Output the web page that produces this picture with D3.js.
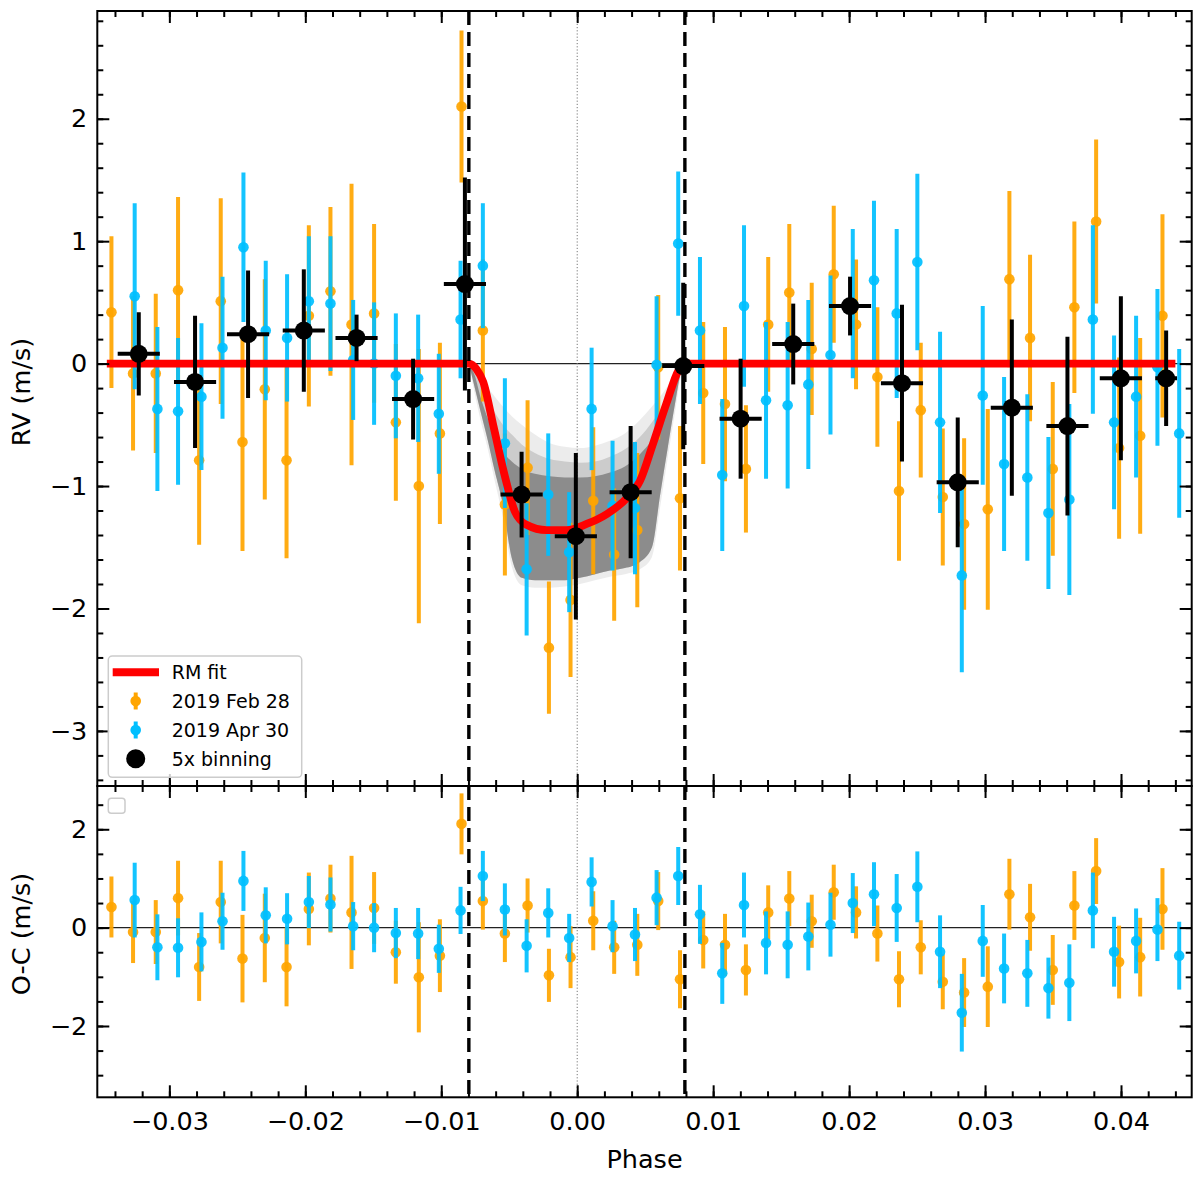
<!DOCTYPE html>
<html>
<head>
<meta charset="utf-8">
<script src="https://cdn.jsdelivr.net/npm/d3@7"></script>
<style>
  html, body { margin: 0; padding: 0; background: #fff; }
  svg { display: block; font-family: "DejaVu Sans", sans-serif; }
</style>
</head>
<body>
<div id="container"></div>
<script>
const width = 1200, height = 1178;

// 2019 Feb 28 (orange): phase, RV, RV error, O-C
const febPhase = [-0.03426, -0.03267, -0.03100, -0.02936, -0.02781, -0.02622, -0.02462, -0.02298, -0.02138, -0.01974,
  -0.01815, -0.01660, -0.01494, -0.01334, -0.01165, -0.01010, -0.00851, -0.00694, -0.00532, -0.00365,
  -0.00208, -0.00049, 0.00118, 0.00272, 0.00442, 0.00596, 0.00756, 0.00927, 0.01087, 0.01241,
  0.01405, 0.01560, 0.01725, 0.01887, 0.02051, 0.02208, 0.02367, 0.02527, 0.02689, 0.02846,
  0.03020, 0.03179, 0.03331, 0.03498, 0.03657, 0.03817, 0.03986, 0.04141, 0.04305];
const febRV = [0.42, -0.08, -0.08, 0.60, -0.79, 0.51, -0.64, -0.21, -0.79, 0.39,
  0.59, 0.32, 0.41, -0.48, -1.00, -0.57, 2.10, 0.27, -1.15, -0.85,
  -2.32, -1.93, -1.12, -1.56, -1.36, -0.03, -1.10, -0.24, -0.33, -0.86,
  0.32, 0.58, 0.12, 0.73, 0.32, -0.11, -1.04, -0.38, -1.09, -1.31,
  -1.19, 0.69, 0.21, -0.86, 0.46, 1.16, -0.69, -0.59, 0.39];
const febErr = [0.62, 0.63, 0.65, 0.76, 0.69, 0.84, 0.89, 0.90, 0.80, 0.74,
  0.69, 1.15, 0.73, 0.64, 1.12, 0.74, 0.62, 0.58, 0.58, 0.55,
  0.54, 0.63, 0.60, 0.54, 0.63, 0.59, 0.59, 0.58, 0.63, 0.52,
  0.55, 0.56, 0.54, 0.56, 0.53, 0.57, 0.57, 0.55, 0.56, 0.70,
  0.82, 0.72, 0.68, 0.71, 0.70, 0.67, 0.74, 0.80, 0.83];
const febOC = [0.42, -0.09, -0.09, 0.60, -0.80, 0.52, -0.63, -0.21, -0.80, 0.38,
  0.59, 0.31, 0.40, -0.50, -1.01, -0.57, 2.11, 0.54, -0.12, 0.45,
  -0.97, -0.60, 0.14, -0.40, -0.35, 0.54, -1.05, -0.25, -0.35, -0.86,
  0.31, 0.59, 0.13, 0.72, 0.31, -0.12, -1.05, -0.40, -1.10, -1.32,
  -1.20, 0.68, 0.21, -0.86, 0.45, 1.15, -0.70, -0.60, 0.38];

// 2019 Apr 30 (cyan)
const aprPhase = [-0.03255, -0.03088, -0.02936, -0.02764, -0.02609, -0.02455, -0.02291, -0.02134, -0.01974, -0.01815,
  -0.01648, -0.01494, -0.01334, -0.01170, -0.01018, -0.00858, -0.00694, -0.00532, -0.00372, -0.00213,
  -0.00059, 0.00106, 0.00260, 0.00425, 0.00584, 0.00743, 0.00903, 0.01067, 0.01227, 0.01389,
  0.01548, 0.01700, 0.01863, 0.02027, 0.02183, 0.02350, 0.02502, 0.02669, 0.02829, 0.02983,
  0.03140, 0.03311, 0.03466, 0.03620, 0.03793, 0.03949, 0.04111, 0.04268, 0.04428];
const aprRV = [0.55, -0.37, -0.39, -0.27, 0.13, 0.95, 0.27, 0.21, 0.51, 0.49,
  0.03, 0.00, -0.10, -0.12, -0.41, 0.36, 0.80, -0.65, -1.68, -1.07,
  -1.54, -0.37, -1.16, -1.18, -0.01, 0.98, 0.27, -0.91, 0.47, -0.30,
  -0.34, -0.17, 0.07, 0.49, 0.68, 0.41, 0.83, -0.48, -1.73, -0.26,
  -0.82, -0.93, -1.22, -1.11, 0.36, -0.48, -0.27, -0.03, -0.57];
const aprErr = [0.76, 0.67, 0.60, 0.60, 0.58, 0.61, 0.57, 0.52, 0.53, 0.55,
  0.49, 0.50, 0.51, 0.52, 0.49, 0.48, 0.51, 0.53, 0.54, 0.50,
  0.49, 0.50, 0.53, 0.54, 0.56, 0.59, 0.60, 0.62, 0.66, 0.64,
  0.68, 0.69, 0.65, 0.61, 0.65, 0.69, 0.72, 0.74, 0.79, 0.73,
  0.71, 0.68, 0.62, 0.78, 0.77, 0.71, 0.66, 0.64, 0.69];
const aprOC = [0.56, -0.40, -0.41, -0.29, 0.13, 0.95, 0.25, 0.18, 0.52, 0.47,
  0.03, 0.00, -0.11, -0.12, -0.43, 0.35, 1.05, 0.37, -0.37, 0.30,
  -0.21, 0.93, 0.03, -0.14, 0.61, 1.05, 0.27, -0.93, 0.46, -0.31,
  -0.35, -0.18, 0.06, 0.50, 0.68, 0.40, 0.83, -0.49, -1.73, -0.27,
  -0.83, -0.93, -1.23, -1.12, 0.35, -0.49, -0.27, -0.04, -0.57];

// 5x binning (black)
const binPhase = [-0.03225, -0.02811, -0.02421, -0.02011, -0.01623, -0.01207, -0.00826, -0.00409, -0.00010, 0.00393,
  0.00780, 0.01202, 0.01589, 0.02007, 0.02389, 0.02799, 0.03197, 0.03606, 0.03999, 0.04332];
const binRV = [0.08, -0.15, 0.24, 0.27, 0.21, -0.29, 0.65, -1.07, -1.41, -1.05,
  -0.02, -0.45, 0.16, 0.47, -0.16, -0.97, -0.36, -0.51, -0.12, -0.12];
const binErr = [0.34, 0.54, 0.52, 0.50, 0.19, 0.33, 0.87, 0.35, 0.68, 0.54,
  0.68, 0.49, 0.33, 0.24, 0.64, 0.53, 0.72, 0.73, 0.67, 0.39];
const binPhaseErr = [0.00155, 0.00155, 0.00155, 0.00155, 0.00155, 0.00155, 0.00155, 0.00155, 0.00155, 0.00155,
  0.00155, 0.00155, 0.00155, 0.00155, 0.00155, 0.00155, 0.00155, 0.00155, 0.00155, 0.0008];

// RM fit (red)
const modelPhase = [-0.0346, -0.00797, -0.00741, -0.00691, -0.00618, -0.00532, -0.00458, -0.00373, -0.00225, -0.00078,
  0.00069, 0.00216, 0.00363, 0.00461, 0.00559, 0.00658, 0.00743, 0.00792, 0.0440];
const modelRV = [0, 0, -0.045, -0.15, -0.50, -0.92, -1.21, -1.316, -1.36, -1.36,
  -1.31, -1.23, -1.10, -0.96, -0.65, -0.32, -0.06, 0, 0];

// posterior model spread (grey): faint top feather, mid feather, dense core
const bandPhase = [-0.00797, -0.00753, -0.00709, -0.00657, -0.00606, -0.00547, -0.00481, -0.00408, -0.00311, -0.00201, -0.00091,
  0.00020, 0.00130, 0.00241, 0.00351, 0.00461, 0.00550, 0.00609, 0.00667, 0.00719, 0.00763, 0.00792];
const outerHi = [0, -0.04, -0.12, -0.20, -0.27, -0.35, -0.43, -0.50, -0.58, -0.65, -0.68,
  -0.69, -0.67, -0.63, -0.57, -0.46, -0.35, -0.27, -0.18, -0.09, -0.03, 0];
const outerLo = [0, -0.25, -0.47, -0.70, -0.96, -1.25, -1.66, -1.81, -1.83, -1.83, -1.82,
  -1.80, -1.77, -1.74, -1.72, -1.68, -1.58, -1.18, -0.76, -0.40, -0.10, 0];
const midHi = [0, -0.06, -0.18, -0.30, -0.40, -0.50, -0.58, -0.66, -0.73, -0.78, -0.80,
  -0.81, -0.80, -0.76, -0.70, -0.60, -0.48, -0.38, -0.26, -0.14, -0.05, 0];
const coreHi = [0, -0.10, -0.28, -0.45, -0.60, -0.72, -0.80, -0.86, -0.90, -0.92, -0.93,
  -0.93, -0.92, -0.89, -0.84, -0.74, -0.62, -0.50, -0.36, -0.20, -0.07, 0];
const coreLo = [0, -0.20, -0.40, -0.63, -0.88, -1.15, -1.59, -1.75, -1.77, -1.77, -1.77,
  -1.75, -1.72, -1.69, -1.67, -1.62, -1.50, -1.08, -0.68, -0.33, -0.07, 0];

const transitEdges = [-0.00797, 0.00792];
const xTicks = [-0.03, -0.02, -0.01, 0, 0.01, 0.02, 0.03, 0.04];
const rvTicks = [-3, -2, -1, 0, 1, 2];
const ocTicks = [-2, 0, 2];
const legendLabels = ["RM fit", "2019 Feb 28", "2019 Apr 30", "5x binning"];

const ORANGE = "#ffa500", CYAN = "#00bfff";

// Layout
const L = 97.3, R = 1191.7;
const T1 = 11, B1 = 786, T2 = 786, B2 = 1097.3;

const x = d3.scaleLinear().domain([-0.0353, 0.0452]).range([L, R]);
const yTop = d3.scaleLinear().domain([-3.45, 2.88]).range([B1, T1]);
const yBot = d3.scaleLinear().domain([-3.45, 2.88]).range([B2, T2]);

const svg = d3.select("#container").append("svg")
  .attr("width", width).attr("height", height);

const defs = svg.append("defs");
defs.append("clipPath").attr("id", "clipTop").append("rect")
  .attr("x", L).attr("y", T1).attr("width", R - L).attr("height", B1 - T1);
defs.append("clipPath").attr("id", "clipBot").append("rect")
  .attr("x", L).attr("y", T2).attr("width", R - L).attr("height", B2 - T2);

const gTop = svg.append("g").attr("clip-path", "url(#clipTop)");
const gBot = svg.append("g").attr("clip-path", "url(#clipBot)");

// grey spread of posterior models
const band = (hi, lo) => d3.area()
  .x((d, i) => x(bandPhase[i]))
  .y0((d, i) => yTop(lo[i]))
  .y1((d, i) => yTop(hi[i]))
  .curve(d3.curveMonotoneX)(bandPhase);
gTop.append("path").attr("d", band(outerHi, outerLo)).attr("fill", "#808080").attr("opacity", 0.15);
gTop.append("path").attr("d", band(midHi, coreLo)).attr("fill", "#808080").attr("opacity", 0.3);
gTop.append("path").attr("d", band(coreHi, coreLo)).attr("fill", "#808080").attr("opacity", 0.85);

// reference lines
for (const [g, y, t, b] of [[gTop, yTop, T1, B1], [gBot, yBot, T2, B2]]) {
  g.append("line")
    .attr("x1", L).attr("x2", R).attr("y1", y(0)).attr("y2", y(0))
    .attr("stroke", "#222").attr("stroke-width", 1.2);
  g.append("line")
    .attr("x1", x(0)).attr("x2", x(0)).attr("y1", t).attr("y2", b)
    .attr("stroke", "#777").attr("stroke-width", 1).attr("stroke-dasharray", "1.2,2");
}

function errPoints(g, y, phases, vals, errs, color, r) {
  const data = phases.map((p, i) => ({ p, v: vals[i], e: errs[i] }));
  g.append("g").selectAll("line").data(data).join("line")
    .attr("x1", d => x(d.p)).attr("x2", d => x(d.p))
    .attr("y1", d => y(d.v - d.e)).attr("y2", d => y(d.v + d.e))
    .attr("stroke", color).attr("stroke-width", 4).attr("opacity", 0.92);
  g.append("g").selectAll("circle").data(data).join("circle")
    .attr("cx", d => x(d.p)).attr("cy", d => y(d.v)).attr("r", r)
    .attr("fill", color).attr("opacity", 0.92);
}

// top panel data
errPoints(gTop, yTop, febPhase, febRV, febErr, ORANGE, 5.3);
errPoints(gTop, yTop, aprPhase, aprRV, aprErr, CYAN, 5.3);

gTop.append("path")
  .datum(modelPhase)
  .attr("fill", "none")
  .attr("stroke", "#ff0000")
  .attr("stroke-width", 7.8)
  .attr("d", d3.line().x(d => x(d)).y((d, i) => yTop(modelRV[i])).curve(d3.curveMonotoneX));

// bottom panel residuals
errPoints(gBot, yBot, febPhase, febOC, febErr, ORANGE, 5.3);
errPoints(gBot, yBot, aprPhase, aprOC, aprErr, CYAN, 5.3);

// transit edges
for (const [g, t, b] of [[gTop, T1, B1], [gBot, T2, B2]]) {
  g.selectAll(null).data(transitEdges).join("line")
    .attr("x1", d => x(d)).attr("x2", d => x(d))
    .attr("y1", t).attr("y2", b)
    .attr("stroke", "#000").attr("stroke-width", 3.4).attr("stroke-dasharray", "14,7");
}

// binned points
const bins = binPhase.map((p, i) => ({ p, v: binRV[i], e: binErr[i], pe: binPhaseErr[i] }));
const gBin = gTop.append("g");
gBin.selectAll(".bx").data(bins).join("line")
  .attr("x1", d => x(d.p - d.pe)).attr("x2", d => x(d.p + d.pe))
  .attr("y1", d => yTop(d.v)).attr("y2", d => yTop(d.v))
  .attr("stroke", "#000").attr("stroke-width", 4);
gBin.selectAll(".by").data(bins).join("line")
  .attr("x1", d => x(d.p)).attr("x2", d => x(d.p))
  .attr("y1", d => yTop(d.v - d.e)).attr("y2", d => yTop(d.v + d.e))
  .attr("stroke", "#000").attr("stroke-width", 4);
gBin.selectAll("circle").data(bins).join("circle")
  .attr("cx", d => x(d.p)).attr("cy", d => yTop(d.v)).attr("r", 9)
  .attr("fill", "#000");

// axes, inward ticks on all four sides
const fmtX = d3.format(".2f");
const fmtY = d3.format("d");
function styleAxis(sel) {
  sel.attr("font-size", null).attr("font-family", null);
  sel.select(".domain").remove();
  sel.selectAll("line").attr("stroke", "#000").attr("stroke-width", 2);
  sel.selectAll("text").attr("fill", "#000")
    .style("font-size", "25.5px").style("font-family", "'DejaVu Sans', sans-serif");
}
function frame(y, top, bottom, majorY, minorY, labelX) {
  const g = svg.append("g");
  const minorX = d3.range(-0.034, 0.0451, 0.002);
  const add = (axis, tr) => g.append("g").attr("transform", tr).call(axis).call(styleAxis);
  add(d3.axisBottom(x).tickValues(xTicks).tickSize(-12).tickSizeOuter(0).tickPadding(14.5)
    .tickFormat(labelX ? fmtX : () => ""), `translate(0,${bottom})`);
  add(d3.axisBottom(x).tickValues(minorX).tickSize(-6).tickSizeOuter(0).tickFormat(() => ""), `translate(0,${bottom})`);
  add(d3.axisTop(x).tickValues(xTicks).tickSize(-12).tickSizeOuter(0).tickFormat(() => ""), `translate(0,${top})`);
  add(d3.axisTop(x).tickValues(minorX).tickSize(-6).tickSizeOuter(0).tickFormat(() => ""), `translate(0,${top})`);
  add(d3.axisLeft(y).tickValues(majorY).tickSize(-12).tickSizeOuter(0).tickPadding(10).tickFormat(fmtY), `translate(${L},0)`);
  add(d3.axisLeft(y).tickValues(minorY).tickSize(-6).tickSizeOuter(0).tickFormat(() => ""), `translate(${L},0)`);
  add(d3.axisRight(y).tickValues(majorY).tickSize(-12).tickSizeOuter(0).tickFormat(() => ""), `translate(${R},0)`);
  add(d3.axisRight(y).tickValues(minorY).tickSize(-6).tickSizeOuter(0).tickFormat(() => ""), `translate(${R},0)`);
  g.append("rect")
    .attr("x", L).attr("y", top).attr("width", R - L).attr("height", bottom - top)
    .attr("fill", "none").attr("stroke", "#000").attr("stroke-width", 2);
}
frame(yTop, T1, B1, rvTicks, d3.range(-3.4, 2.81, 0.2), false);
frame(yBot, T2, B2, ocTicks, d3.range(-3.0, 2.51, 0.5), true);

// axis titles
const title = (txt, tx, ty, rot) => svg.append("text")
  .attr("transform", `translate(${tx},${ty})${rot ? " rotate(-90)" : ""}`)
  .attr("text-anchor", "middle")
  .attr("fill", "#000")
  .style("font-size", "25.5px")
  .text(txt);
title("Phase", (L + R) / 2, 1168, false);
title("RV (m/s)", 30, 392, true);
title("O-C (m/s)", 30, 934, true);

// legend (top panel)
const lg = svg.append("g").attr("transform", "translate(108.3,656)");
lg.append("rect")
  .attr("width", 193.4).attr("height", 121.3).attr("rx", 4)
  .attr("fill", "#fff").attr("fill-opacity", 0.8)
  .attr("stroke", "#cccccc").attr("stroke-width", 1.5);
const rowY = [16.3, 45, 74, 102.7];
lg.append("line")
  .attr("x1", 4.4).attr("x2", 50.7).attr("y1", rowY[0]).attr("y2", rowY[0])
  .attr("stroke", "#ff0000").attr("stroke-width", 8);
[[ORANGE, 5.3, 8.5], [CYAN, 5.3, 8.5], ["#000", 9.5, 8.5]].forEach(([c, r, h], i) => {
  const cy = rowY[i + 1];
  lg.append("line").attr("x1", 27.4).attr("x2", 27.4).attr("y1", cy - h).attr("y2", cy + h)
    .attr("stroke", c).attr("stroke-width", 4);
  lg.append("circle").attr("cx", 27.4).attr("cy", cy).attr("r", r).attr("fill", c);
});
lg.selectAll("text").data(legendLabels).join("text")
  .attr("x", 63.4)
  .attr("y", (d, i) => rowY[i] + 7)
  .attr("fill", "#000")
  .style("font-size", "19px")
  .text(d => d);

// empty legend box in the residual panel
svg.append("rect")
  .attr("x", 108.3).attr("y", 798.3).attr("width", 16.7).attr("height", 15).attr("rx", 3)
  .attr("fill", "#fff").attr("stroke", "#cccccc").attr("stroke-width", 1.5);
</script>
</body>
</html>
